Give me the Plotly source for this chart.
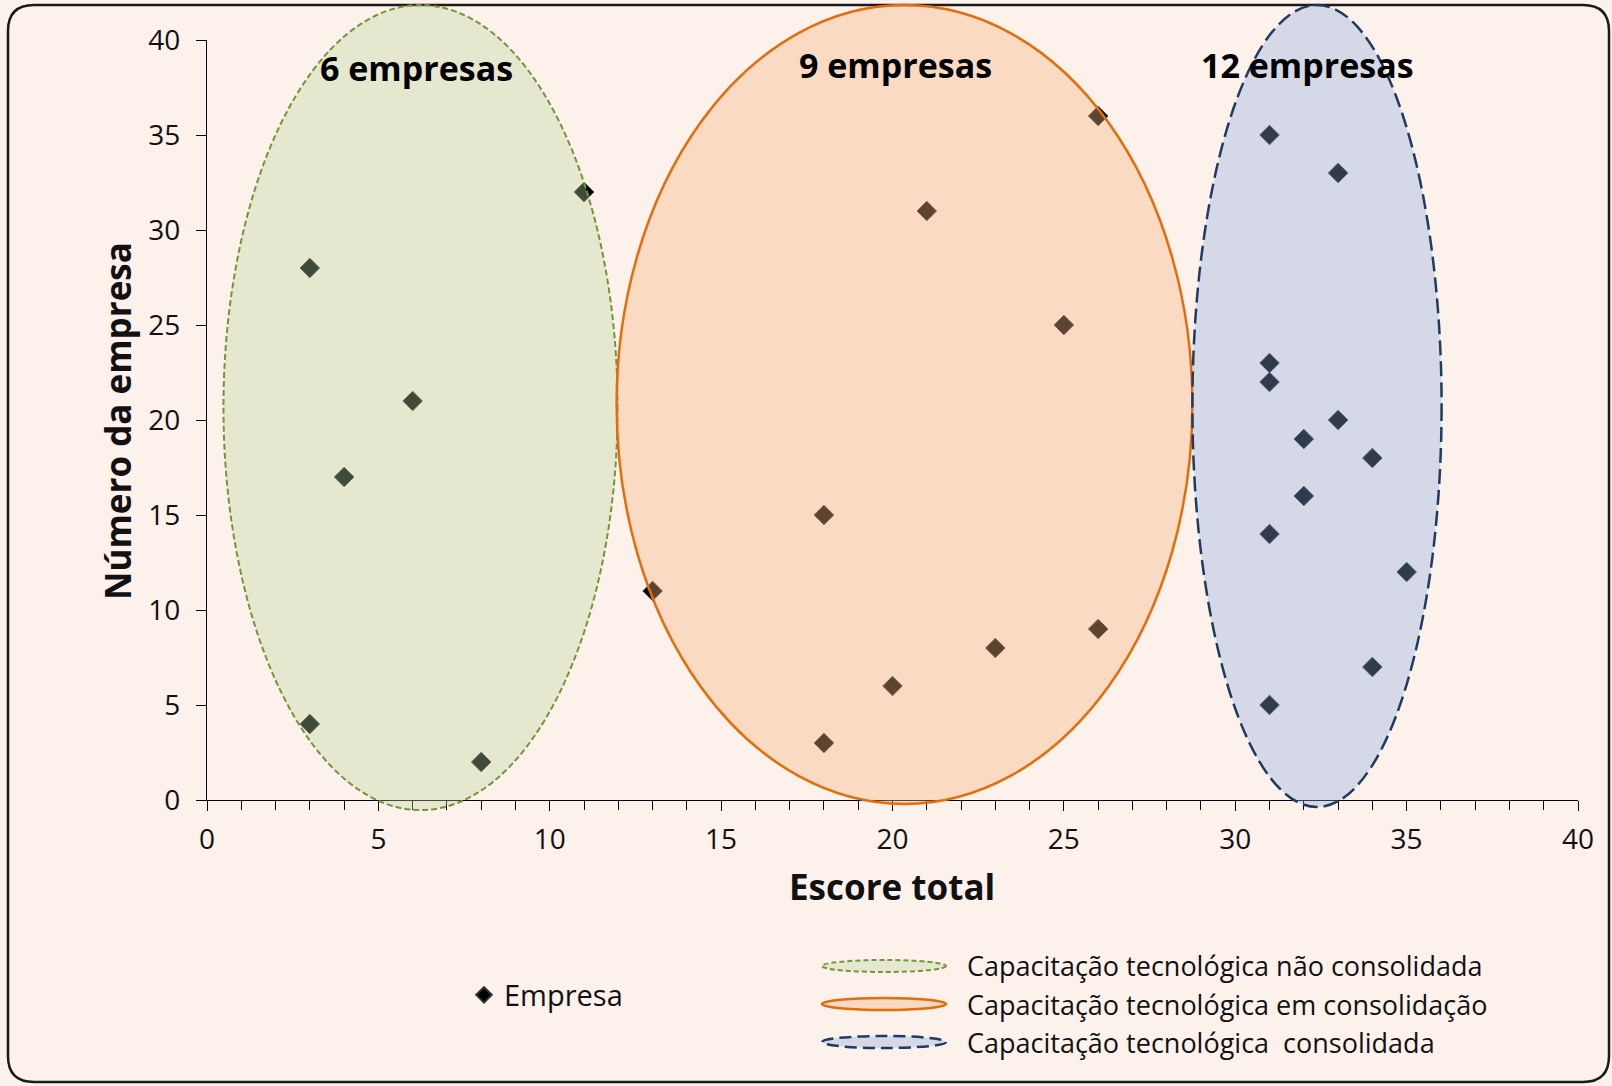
import plotly.graph_objects as go

# ---- data ----
escore = [3, 4, 3, 6, 8, 11,
          13, 18, 18, 20, 21, 23, 25, 26, 26,
          31, 33, 31, 31, 33, 32, 34, 32, 31, 35, 34, 31]
numero = [28, 17, 4, 21, 2, 32,
          11, 15, 3, 6, 31, 8, 25, 36, 9,
          35, 33, 23, 22, 20, 19, 18, 16, 14, 12, 7, 5]

group_labels = ["6 empresas", "9 empresas", "12 empresas"]
group_label_x = [6.1, 20.1, 32.1]
group_label_y = [38.5, 38.7, 38.7]

legend_names = ["Capacitação tecnológica não consolidada",
                "Capacitação tecnológica em consolidação",
                "Capacitação tecnológica  consolidada"]

# ellipse extents in data units (x0, x1, y0, y1)
ellipses = [(0.48, 11.98, -0.53, 41.84),
            (11.95, 28.75, -0.21, 41.84),
            (28.75, 36.02, -0.37, 41.84)]
ell_fill = ["rgba(183,211,154,0.35)", "rgba(244,178,130,0.38)", "rgba(137,171,223,0.35)"]
ell_line = ["#77933C", "#E46C0A", "#1F3B63"]
ell_dash = ["6px,3px", "solid", "15px,6px"]
ell_width = [2, 2.5, 2.5]

FONT = "'Open Sans', Lato, sans-serif"
W, H = 1612, 1086
L, R, T, B = 207, 34, 40, 286
XR = [0, 40]
YR = [0, 40]
PW, PH = W - L - R, H - T - B


def dx2p(v):
    return (v - XR[0]) / (XR[1] - XR[0])


def dy2p(v):
    return (v - YR[0]) / (YR[1] - YR[0])


def px2p(px):
    return (px - L) / PW


def py2p(py):
    return (H - B - py) / PH


fig = go.Figure()
fig.add_trace(go.Scatter(
    x=escore, y=numero, mode="markers", name="Empresa",
    marker=dict(symbol="diamond", size=15, color="#000000",
                line=dict(color="#333333", width=1)),
    cliponaxis=False,
))

shapes = []
for (x0, x1, y0, y1), fc, lc, ds, lw in zip(ellipses, ell_fill, ell_line, ell_dash, ell_width):
    shapes.append(dict(type="circle", xref="paper", yref="paper",
                       x0=dx2p(x0), x1=dx2p(x1), y0=dy2p(y0), y1=dy2p(y1),
                       fillcolor=fc, line=dict(width=0), layer="above"))
    shapes.append(dict(type="circle", xref="paper", yref="paper",
                       x0=dx2p(x0), x1=dx2p(x1), y0=dy2p(y0), y1=dy2p(y1),
                       fillcolor="rgba(0,0,0,0)", line=dict(color=lc, width=lw, dash=ds),
                       layer="above"))

# legend ellipses
leg_y = [966, 1004, 1042]
leg_dash = ["5px,3px", "solid", "12px,6px"]
for i, yy in enumerate(leg_y):
    shapes.append(dict(type="circle", xref="paper", yref="paper",
                       x0=px2p(822), x1=px2p(946), y0=py2p(yy + 6), y1=py2p(yy - 6),
                       fillcolor=ell_fill[i], line=dict(color=ell_line[i], width=ell_width[i],
                                                         dash=leg_dash[i])))

# rounded frame
fx0, fx1, fy0, fy1, rr = px2p(8), px2p(1609), py2p(1082), py2p(5), 26
rx, ry = rr / PW, rr / PH
path = (f"M {fx0+rx},{fy1} L {fx1-rx},{fy1} Q {fx1},{fy1} {fx1},{fy1-ry} "
        f"L {fx1},{fy0+ry} Q {fx1},{fy0} {fx1-rx},{fy0} L {fx0+rx},{fy0} "
        f"Q {fx0},{fy0} {fx0},{fy0+ry} L {fx0},{fy1-ry} Q {fx0},{fy1} {fx0+rx},{fy1} Z")
shapes.append(dict(type="path", xref="paper", yref="paper", path=path,
                   line=dict(color="#1a1a1a", width=2.5), layer="below"))

annotations = []
for lab, gx, gy in zip(group_labels, group_label_x, group_label_y):
    annotations.append(dict(x=dx2p(gx), y=dy2p(gy), xref="paper", yref="paper", text=f"<b>{lab}</b>",
                            xanchor="center", yanchor="middle",
                            showarrow=False, font=dict(family=FONT, size=34, color="#000000")))
for name, yy in zip(legend_names, leg_y):
    annotations.append(dict(x=px2p(965), y=py2p(yy), xref="paper", yref="paper", text=name,
                            xanchor="left", yanchor="middle", showarrow=False,
                            font=dict(family=FONT, size=27, color="#111111")))
# axis titles
annotations.append(dict(x=px2p(892), y=py2p(886), xref="paper", yref="paper",
                        text="<b>Escore total</b>", xanchor="center", yanchor="middle",
                        showarrow=False, font=dict(family=FONT, size=35, color="#111111")))
annotations.append(dict(x=px2p(118), y=py2p(421), xref="paper", yref="paper",
                        text="<b>Número da empresa</b>", xanchor="center", yanchor="middle",
                        textangle=-90, showarrow=False,
                        font=dict(family=FONT, size=35, color="#111111")))

fig.update_layout(
    width=W, height=H,
    margin=dict(l=L, r=R, t=T, b=B, autoexpand=False),
    paper_bgcolor="#FDF2EB", plot_bgcolor="rgba(0,0,0,0)",
    font=dict(family=FONT, size=28, color="#111111"),
    shapes=shapes, annotations=annotations,
    showlegend=True,
    legend=dict(x=px2p(464), y=py2p(995), xanchor="left", yanchor="middle",
                bgcolor="rgba(0,0,0,0)", font=dict(family=FONT, size=29, color="#111111"),
                itemsizing="constant"),
)
fig.update_xaxes(range=XR, dtick=5, showgrid=False, zeroline=False,
                 showline=True, linecolor="#000000", linewidth=1.2,
                 ticks="outside", ticklen=10, tickcolor="#000000", tickwidth=1.2,
                 minor=dict(dtick=1, ticks="outside", ticklen=9, tickcolor="#000000", tickwidth=1.2),
                 ticklabelstandoff=4)
fig.update_yaxes(range=YR, dtick=5, showgrid=False, zeroline=False,
                 showline=True, linecolor="#000000", linewidth=1.2,
                 ticks="outside", ticklen=10, tickcolor="#000000", tickwidth=1.2,
                 ticklabelstandoff=10)

fig.write_html("out.html", post_script="document.body.style.margin='0';",
               config={"displayModeBar": False})
